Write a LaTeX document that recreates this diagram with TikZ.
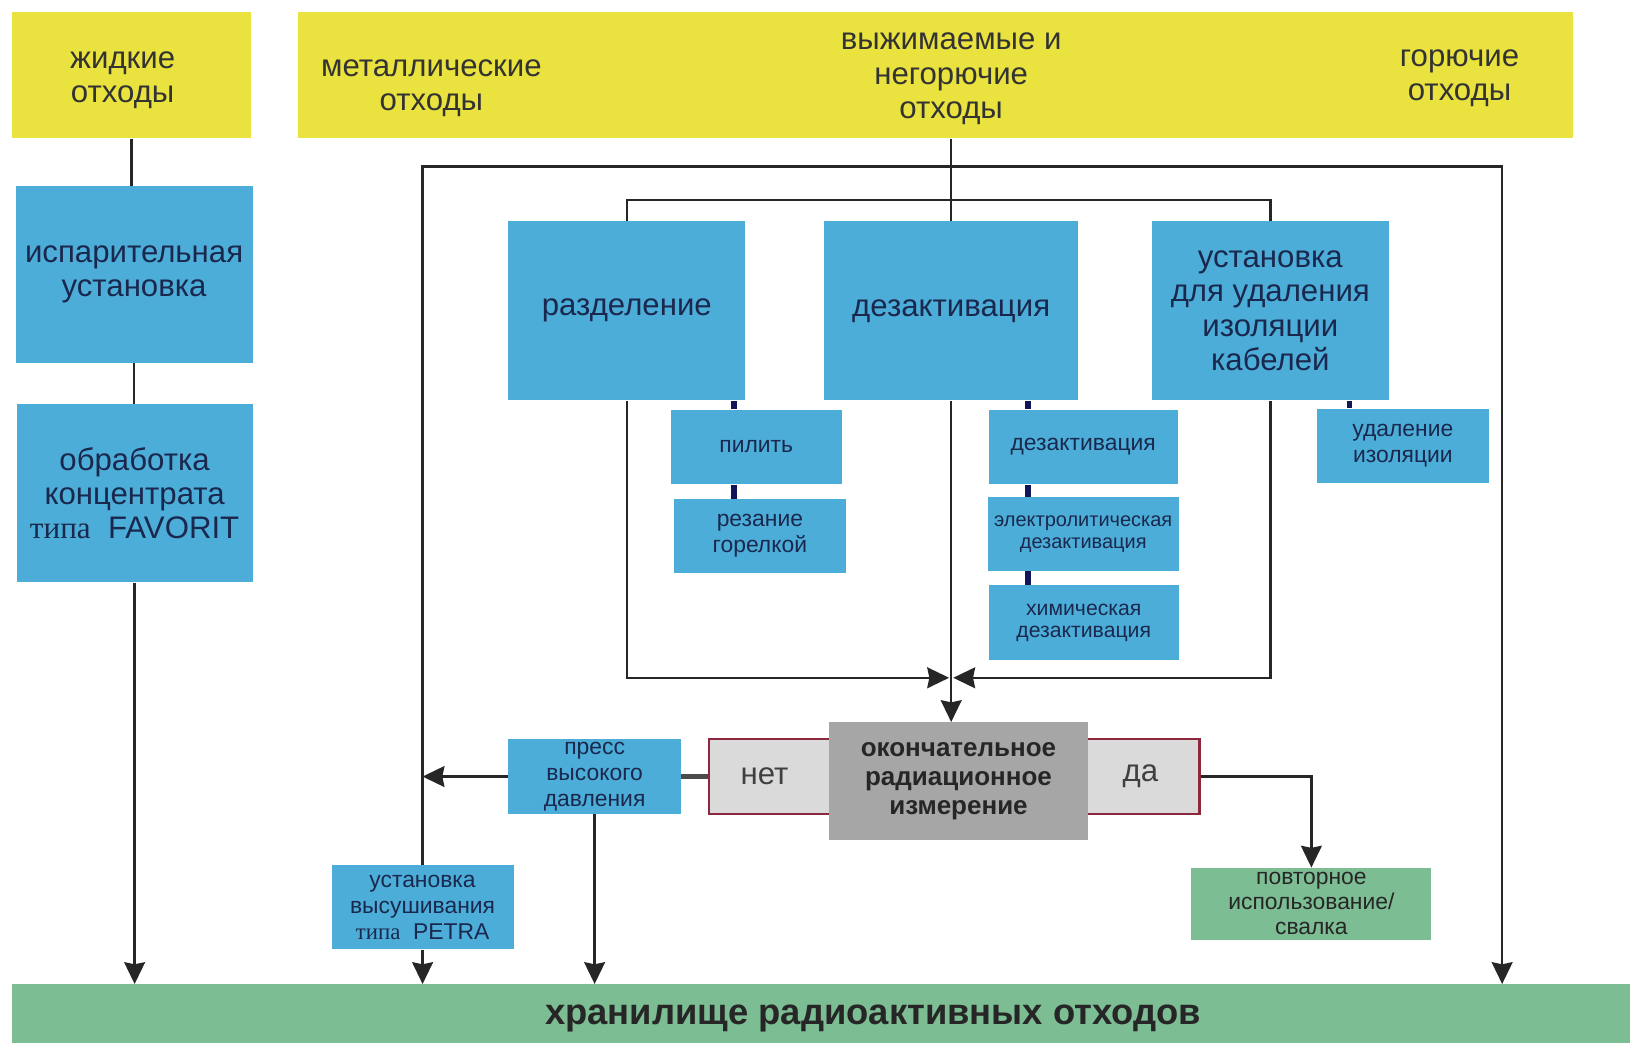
\documentclass[tikz,border=0pt]{standalone}
\usepackage{fontspec}
\setmainfont{Liberation Sans}
\newfontfamily\serifpart{Liberation Serif}
\usepackage{tikz}
\usetikzlibrary{arrows.meta, positioning, calc}
\definecolor{wasteyellow}{RGB}{234, 226, 62}
\definecolor{unitblue}{RGB}{76, 174, 216}
\definecolor{storegreen}{RGB}{124, 189, 148}
\definecolor{measuregray}{RGB}{166, 166, 166}
\definecolor{verdictgray}{RGB}{218, 218, 218}
\definecolor{verdictred}{RGB}{140, 40, 62}
\definecolor{inknavy}{RGB}{26, 40, 78}
\definecolor{tienavy}{RGB}{18, 22, 88}

\begin{document}
\begin{tikzpicture}[
    x=0.5pt, y=-0.5pt,
    waste/.style={
        fill=wasteyellow, inner sep=0pt, align=center, text=black!80,
        font=\fontsize{15}{16.5}\selectfont
    },
    unit/.style={
        fill=unitblue, inner sep=0pt, align=center, text=inknavy,
        font=\fontsize{15}{16.5}\selectfont
    },
    subunit/.style={
        fill=unitblue, inner sep=0pt, align=center, text=inknavy,
        font=\fontsize{11}{12.5}\selectfont
    },
    verdict/.style={
        fill=verdictgray, draw=verdictred, line width=1.3pt, inner sep=0pt,
        text=black!75, font=\fontsize{15}{16.5}\selectfont
    },
    store/.style={
        fill=storegreen, inner sep=0pt, align=center, text=black!85
    },
    link/.style={line width=1.2pt, draw=black!85},
    flow/.style={-{Stealth[length=10.5pt, width=10pt, inset=1pt]}, line width=1.2pt, draw=black!85},
    tie/.style={line width=2.6pt, draw=tienavy}
]
\useasboundingbox (0,0) rectangle (1568,1003);
\clip (0,0) rectangle (1568,1003);

% Waste streams (Top)
\node[waste, minimum width=114.5pt, minimum height=60.5pt] (liquid) at (126.5,72.5) {};
\node[waste, fill=none] (liquidtext) at (118,77) {жидкие\\отходы};
\node[waste, minimum width=613pt, minimum height=60.5pt] (solid) at (900,72.5) {};
\node[waste, fill=none] (metal) at (415,85) {металлические\\отходы};
\node[waste, fill=none] (pressable) at (915,76) {выжимаемые и\\негорючие\\отходы};
\node[waste, fill=none] (burnable) at (1404,75.5) {горючие\\отходы};

% Liquid branch (Left)
\node[unit, minimum width=114pt, minimum height=85pt] (evap) at (129,264) {испарительная\\установка};
\node[unit, minimum width=113.5pt, minimum height=85.5pt] (favorit) at (129.5,474.5) {обработка\\концентрата\\{\serifpart типа}~~FAVORIT};

% Main treatment (Middle)
\node[unit, minimum width=114pt, minimum height=86pt] (separ) at (603,299) {разделение};
\node[unit, minimum width=122pt, minimum height=86pt] (decon) at (915,299) {дезактивация};
\node[unit, minimum width=114pt, minimum height=86pt] (cable) at (1222,299) {установка\\для удаления\\изоляции\\кабелей};

% Sub steps
\node[subunit, minimum width=82.5pt, minimum height=36pt] (saw) at (727.5,430) {пилить};
\node[subunit, minimum width=83pt, minimum height=35.5pt] (torch) at (731,515.5) {резание\\горелкой};
\node[subunit, minimum width=91pt, minimum height=36pt] (deconA) at (1042,430) {дезактивация};
\node[subunit, minimum width=92pt, minimum height=35.5pt, font=\fontsize{9.6}{10.5}\selectfont] (deconE) at (1042,513.5) {электролитическая\\дезактивация};
\node[subunit, minimum width=91.5pt, minimum height=36pt, font=\fontsize{10.2}{10.5}\selectfont] (deconC) at (1042.5,599) {химическая\\дезактивация};
\node[subunit, minimum width=82.5pt, minimum height=36pt] (strip) at (1349.5,429) {удаление\\изоляции};

% Measurement (Bottom)
\node[verdict, minimum width=61.5pt, minimum height=36pt] (no) at (743.5,747) {\hspace*{-8pt}нет};
\node[verdict, minimum width=57pt, minimum height=36pt] (yes) at (1097,747) {да};
\node[fill=measuregray, inner sep=0pt, minimum width=125pt, minimum height=56.5pt, align=center,
      text=black!85, font=\bfseries\fontsize{12.5}{14}\selectfont] (final) at (922,751.5) {окончательное\\радиационное\\измерение};
\node[subunit, minimum width=83pt, minimum height=36pt] (press) at (572,747) {пресс\\высокого\\давления};
\node[subunit, minimum width=87.5pt, minimum height=40.5pt] (petra) at (406.5,872.5) {установка\\высушивания\\{\serifpart типа}~~PETRA};
\node[store, minimum width=115.5pt, minimum height=34.5pt, font=\fontsize{11}{12}\selectfont] (reuse) at (1261.5,869.5) {повторное\\использование/\\свалка};
\node[store, minimum width=828pt, minimum height=33pt, font=\bfseries\fontsize{17.5}{19}\selectfont] (storage) at (840,980) {хранилище радиоактивных отходов};

% Links
\draw[link] (liquid) -- (liquid |- evap.north);
\draw[link] (evap) -- (evap |- favorit.north);
\draw[flow] (favorit) -- (favorit |- storage.north);
\coordinate (outerR) at (1445,160);
\draw[link] (solid.south -| decon.north) -- (decon.north);
\draw[flow] (petra.north) |- (outerR) -- (outerR |- storage.north);
\draw[link] (separ.north) -- ++(0,-20) -| (cable.north);

\draw[tie] ([xshift=-10.75pt]saw.north) -- ([xshift=-10.75pt]saw.north |- separ.south);
\draw[tie] ([xshift=-10.75pt]saw.south) -- ([xshift=-10.75pt]saw.south |- torch.north);
\draw[tie] ([xshift=-26.5pt]deconA.north) -- ([xshift=-26.5pt]deconA.north |- decon.south);
\draw[tie] ([xshift=-26.5pt]deconA.south) -- ([xshift=-26.5pt]deconA.south |- deconE.north);
\draw[tie] ([xshift=-26.5pt]deconE.south) -- ([xshift=-26.5pt]deconE.south |- deconC.north);
\draw[tie] ([xshift=-25.75pt]strip.north) -- ([xshift=-25.75pt]strip.north |- cable.south);

\coordinate (joinL) at (913,652);
\coordinate (joinR) at (917,652);
\draw[flow] (separ.south) |- (joinL);
\draw[flow] (cable.south) |- (joinR);
\draw[flow] (decon.south) -- (decon.south |- final.north);

\draw[line width=2.6pt, draw=black!70] (press) -- (no);
\draw[flow] (press.west) -- (press.west -| petra.north);
\draw[flow] (press.south) -- (press.south |- storage.north);
\draw[flow] (petra.south) -- (petra.south |- storage.north);
\draw[flow] (yes.east) -| (reuse.north);

\end{tikzpicture}
\end{document}
